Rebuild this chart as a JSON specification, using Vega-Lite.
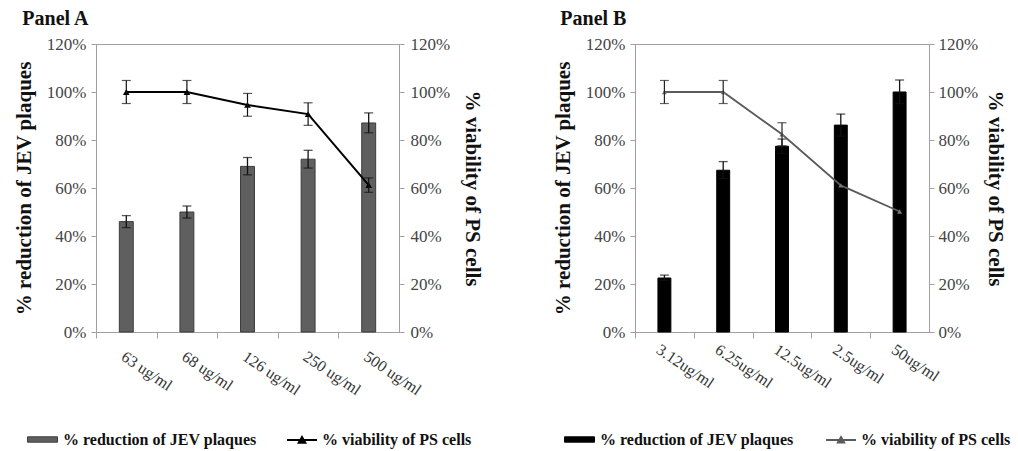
{
  "$schema": "https://vega.github.io/schema/vega-lite/v6.json",
  "background": "white",
  "padding": {"left": 12, "top": 8, "right": 0, "bottom": 0},
  "config": {
    "font": "Liberation Serif",
    "view": {"stroke": "#a0a0a0", "strokeWidth": 1},
    "axis": {"labelFont": "Liberation Serif", "labelFontSize": 17, "labelColor": "#444", "domainColor": "#a0a0a0", "tickColor": "#a0a0a0", "grid": false, "titleFont": "Liberation Serif", "titleFontWeight": "bold", "titleFontSize": 21, "titleColor": "#111", "tickSize": 5, "labelPadding": 5},
    "legend": {"labelFont": "Liberation Serif", "labelFontSize": 16, "labelFontWeight": "bold", "labelColor": "#111", "labelLimit": 0},
    "title": {"font": "Liberation Serif", "fontSize": 20, "fontWeight": "bold", "anchor": "start", "color": "#111"}
  },
  "spacing": 67,
  "resolve": {"scale": {"fill": "independent", "stroke": "independent"}, "legend": {"fill": "independent", "stroke": "independent"}},
  "hconcat": [
    {
      "title": {"text": "Panel A", "dx": 9, "offset": 6},
      "width": 303,
      "height": 288,
      "data": {"values": [
        {"conc": "63 ug/ml", "red": 0.46, "rlo": 0.435, "rhi": 0.485, "via": 1.0, "vlo": 0.952, "vhi": 1.048},
        {"conc": "68 ug/ml", "red": 0.50, "rlo": 0.475, "rhi": 0.525, "via": 1.0, "vlo": 0.952, "vhi": 1.048},
        {"conc": "126 ug/ml", "red": 0.69, "rlo": 0.655, "rhi": 0.727, "via": 0.946, "vlo": 0.899, "vhi": 0.994},
        {"conc": "250 ug/ml", "red": 0.72, "rlo": 0.683, "rhi": 0.757, "via": 0.908, "vlo": 0.861, "vhi": 0.955},
        {"conc": "500 ug/ml", "red": 0.871, "rlo": 0.83, "rhi": 0.913, "via": 0.612, "vlo": 0.582, "vhi": 0.642}
      ]},
      "encoding": {
        "x": {"field": "conc", "type": "nominal", "sort": null,
          "scale": {"paddingInner": 0.77, "paddingOuter": 0.385},
          "axis": {"title": null, "labelAngle": 34, "labelAlign": "left", "labelBaseline": "top", "tickOffset": -30.3, "labelOffset": 31, "labelFontSize": 16, "labelPadding": 10, "tickSize": 6, "labelColor": "#333"}}
      },
      "layer": [
        {"layer": [
          {"mark": {"type": "bar", "stroke": "#3c3c3c", "strokeWidth": 1},
           "encoding": {
             "y": {"field": "red", "type": "quantitative", "title": "% reduction of JEV plaques", "scale": {"domain": [0, 1.2]}, "axis": {"format": ".0%", "values": [0, 0.2, 0.4, 0.6, 0.8, 1.0, 1.2], "titlePadding": 12}},
             "fill": {"datum": "% reduction of JEV plaques", "scale": {"range": ["#5f5f5f"]},
               "legend": {"orient": "none", "legendX": -69, "legendY": 380, "title": null, "symbolType": "M-1,-0.18L1,-0.18L1,0.18L-1,0.18Z", "symbolSize": 900, "symbolStrokeColor": "#3c3c3c", "symbolStrokeWidth": 1, "labelOffset": 5}}
           }},
          {"mark": {"type": "rule", "color": "#111", "strokeWidth": 1.3},
           "encoding": {"y": {"field": "rlo", "type": "quantitative", "title": "% reduction of JEV plaques"}, "y2": {"field": "rhi"}}},
          {"mark": {"type": "tick", "color": "#111", "size": 9, "thickness": 1.3},
           "encoding": {"y": {"field": "rlo", "type": "quantitative", "title": "% reduction of JEV plaques"}}},
          {"mark": {"type": "tick", "color": "#111", "size": 9, "thickness": 1.3},
           "encoding": {"y": {"field": "rhi", "type": "quantitative", "title": "% reduction of JEV plaques"}}}
        ]},
        {"layer": [
          {"mark": {"type": "line", "strokeWidth": 2},
           "encoding": {
             "y": {"field": "via", "type": "quantitative", "title": "% viability of PS cells", "scale": {"domain": [0, 1.2]}, "axis": {"orient": "right", "format": ".0%", "values": [0, 0.2, 0.4, 0.6, 0.8, 1.0, 1.2], "titlePadding": 12, "labelPadding": 6}},
             "stroke": {"datum": "% viability of PS cells", "scale": {"range": ["#000000"]},
               "legend": {"orient": "none", "legendX": 190, "legendY": 380, "title": null, "symbolType": "M-1,0L1,0M-0.22,0.18L0,-0.2L0.22,0.18Z", "symbolSize": 900, "symbolStrokeWidth": 2, "symbolFillColor": "#000000", "labelOffset": 4}}
           }},
          {"mark": {"type": "point", "shape": "triangle-up", "filled": true, "color": "#000000", "size": 45, "opacity": 1},
           "encoding": {"y": {"field": "via", "type": "quantitative", "title": "% viability of PS cells"}}},
          {"mark": {"type": "rule", "color": "#111", "strokeWidth": 1.2},
           "encoding": {"y": {"field": "vlo", "type": "quantitative", "title": "% viability of PS cells"}, "y2": {"field": "vhi"}}},
          {"mark": {"type": "tick", "color": "#111", "size": 9, "thickness": 1.2},
           "encoding": {"y": {"field": "vlo", "type": "quantitative", "title": "% viability of PS cells"}}},
          {"mark": {"type": "tick", "color": "#111", "size": 9, "thickness": 1.2},
           "encoding": {"y": {"field": "vhi", "type": "quantitative", "title": "% viability of PS cells"}}}
        ]}
      ],
      "resolve": {"scale": {"y": "independent"}}
    },
    {
      "title": {"text": "Panel B", "dx": 8, "offset": 6},
      "width": 294,
      "height": 288,
      "data": {"values": [
        {"conc": "3.12ug/ml", "red": 0.225, "rlo": 0.215, "rhi": 0.237, "via": 1.0, "vlo": 0.952, "vhi": 1.048},
        {"conc": "6.25ug/ml", "red": 0.674, "rlo": 0.64, "rhi": 0.71, "via": 1.0, "vlo": 0.952, "vhi": 1.048},
        {"conc": "12.5ug/ml", "red": 0.774, "rlo": 0.744, "rhi": 0.804, "via": 0.824, "vlo": 0.776, "vhi": 0.872},
        {"conc": "2.5ug/ml", "red": 0.862, "rlo": 0.816, "rhi": 0.908, "via": 0.611, "vlo": null, "vhi": null},
        {"conc": "50ug/ml", "red": 1.0, "rlo": 0.952, "rhi": 1.05, "via": 0.502, "vlo": null, "vhi": null}
      ]},
      "encoding": {
        "x": {"field": "conc", "type": "nominal", "sort": null,
          "scale": {"paddingInner": 0.78, "paddingOuter": 0.39},
          "axis": {"title": null, "labelAngle": 34, "labelAlign": "left", "labelBaseline": "top", "tickOffset": -29.4, "labelOffset": 27, "labelFontSize": 16, "labelPadding": 3, "tickSize": 6, "labelColor": "#333"}}
      },
      "layer": [
        {"layer": [
          {"mark": {"type": "bar", "stroke": "#000000", "strokeWidth": 1},
           "encoding": {
             "y": {"field": "red", "type": "quantitative", "title": "% reduction of JEV plaques", "scale": {"domain": [0, 1.2]}, "axis": {"format": ".0%", "values": [0, 0.2, 0.4, 0.6, 0.8, 1.0, 1.2], "titlePadding": 12}},
             "fill": {"datum": "% reduction of JEV plaques", "scale": {"range": ["#000000"]},
               "legend": {"orient": "none", "legendX": -71, "legendY": 380, "title": null, "symbolType": "M-1,-0.18L1,-0.18L1,0.18L-1,0.18Z", "symbolSize": 900, "symbolStrokeColor": "#000000", "symbolStrokeWidth": 1, "labelOffset": 5}}
           }},
          {"mark": {"type": "rule", "color": "#111", "strokeWidth": 1.3},
           "encoding": {"y": {"field": "rlo", "type": "quantitative", "title": "% reduction of JEV plaques"}, "y2": {"field": "rhi"}}},
          {"mark": {"type": "tick", "color": "#111", "size": 9, "thickness": 1.3},
           "encoding": {"y": {"field": "rlo", "type": "quantitative", "title": "% reduction of JEV plaques"}}},
          {"mark": {"type": "tick", "color": "#111", "size": 9, "thickness": 1.3},
           "encoding": {"y": {"field": "rhi", "type": "quantitative", "title": "% reduction of JEV plaques"}}}
        ]},
        {"layer": [
          {"mark": {"type": "line", "strokeWidth": 1.8},
           "encoding": {
             "y": {"field": "via", "type": "quantitative", "title": "% viability of PS cells", "scale": {"domain": [0, 1.2]}, "axis": {"orient": "right", "format": ".0%", "values": [0, 0.2, 0.4, 0.6, 0.8, 1.0, 1.2], "titlePadding": 7, "labelPadding": 4}},
             "stroke": {"datum": "% viability of PS cells", "scale": {"range": ["#5a5a5a"]},
               "legend": {"orient": "none", "legendX": 190, "legendY": 380, "title": null, "symbolType": "M-1,0L1,0M-0.22,0.18L0,-0.2L0.22,0.18Z", "symbolSize": 900, "symbolStrokeWidth": 1.8, "symbolFillColor": "#5a5a5a", "labelOffset": 4}}
           }},
          {"mark": {"type": "point", "shape": "triangle-up", "filled": true, "color": "#777777", "size": 25, "opacity": 1},
           "encoding": {"y": {"field": "via", "type": "quantitative", "title": "% viability of PS cells"}}},
          {"transform": [{"filter": "isValid(datum.vlo)"}],
           "layer": [
            {"mark": {"type": "rule", "color": "#222", "strokeWidth": 1.2},
             "encoding": {"y": {"field": "vlo", "type": "quantitative", "title": "% viability of PS cells"}, "y2": {"field": "vhi"}}},
            {"mark": {"type": "tick", "color": "#222", "size": 9, "thickness": 1.2},
             "encoding": {"y": {"field": "vlo", "type": "quantitative", "title": "% viability of PS cells"}}},
            {"mark": {"type": "tick", "color": "#222", "size": 9, "thickness": 1.2},
             "encoding": {"y": {"field": "vhi", "type": "quantitative", "title": "% viability of PS cells"}}}
          ]}
        ]}
      ],
      "resolve": {"scale": {"y": "independent"}}
    }
  ]
}
